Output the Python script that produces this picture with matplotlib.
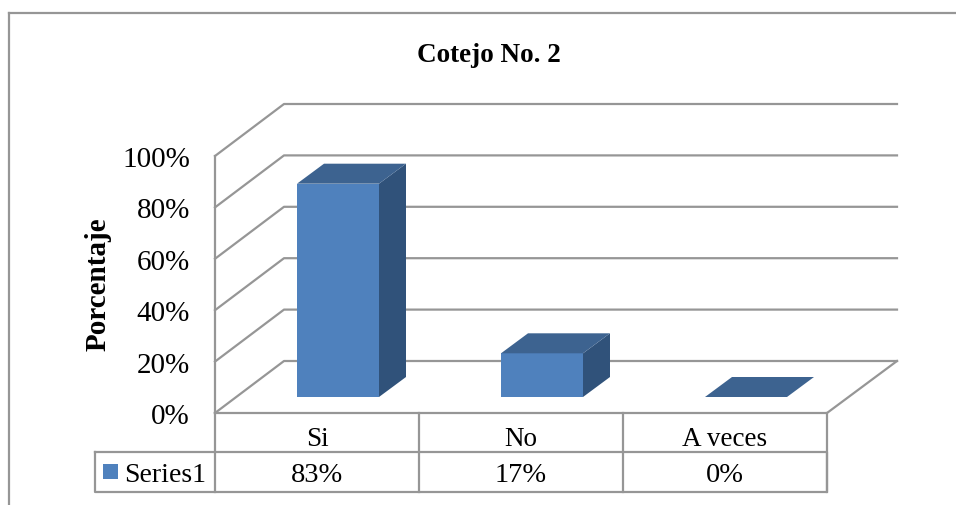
import matplotlib
matplotlib.use('Agg')
import matplotlib.pyplot as plt
from matplotlib.patches import Polygon

plt.rcParams['font.family'] = ['Liberation Serif', 'DejaVu Serif']

categories = ['Si', 'No', 'A veces']
values = [83, 17, 0]
value_labels = ['83%', '17%', '0%']
ticks = [0, 20, 40, 60, 80, 100]
series_name = 'Series1'
title = 'Cotejo No. 2'
ylabel = 'Porcentaje'

FRONT = '#4F81BD'
SIDE = '#30527A'
TOP = '#3D6390'
GRID = '#969696'

fig = plt.figure(figsize=(9.56, 5.05), dpi=100)
ax = fig.add_axes([0, 0, 1, 1])
ax.set_xlim(0, 956)
ax.set_ylim(505, 0)
ax.axis('off')

# plot box, in pixels
x0, x1 = 215, 827
y0 = 413
px_per_pct = 2.57
dx, dy = 69, 52


def yv(v):
    return y0 - v * px_per_pct


def line(xs, ys, lw=1.6):
    ax.plot(xs, ys, color=GRID, lw=lw, solid_capstyle='projecting', zorder=1)


# chart border, only top and left show
line([9, 9], [505, 13])
line([9, 956], [13, 13])

# walls and gridlines
line([x0, x0], [yv(0), yv(100)])
for t in ticks:
    line([x0, x0 + dx, x1 + dx + 1], [yv(t), yv(t) - dy, yv(t) - dy])
    ax.text(190, yv(t) + 4, f'{t}%', ha='right', va='center', fontsize=21, color='black')

# floor
line([x0, x1, x1 + dx + 1], [y0, y0, y0 - dy])

# bars
slot = (x1 - x0) / len(categories)
bar_w = 82
off_x, off_y = 27, 20
lift_y = 16
for i, v in enumerate(values):
    left = x0 + slot * i + 82
    right = left + bar_w
    bottom = yv(0) - lift_y
    top = bottom - v * px_per_pct
    if v > 0:
        ax.add_patch(Polygon([(left, bottom), (right, bottom), (right, top), (left, top)],
                             fc=FRONT, ec='none', zorder=3))
        ax.add_patch(Polygon([(right, bottom), (right + off_x, bottom - off_y),
                              (right + off_x, top - off_y), (right, top)],
                             fc=SIDE, ec='none', zorder=3))
    ax.add_patch(Polygon([(left, top), (right, top), (right + off_x, top - off_y),
                          (left + off_x, top - off_y)], fc=TOP, ec='none', zorder=3))

# data table
row1, row2, row3 = 413, 452, 492
line([95, x1, x1, 95, 95], [row2, row2, row3, row3, row2])
line([x0, x0], [row1, row3])
for i in range(1, 4):
    xc = x0 + slot * i
    line([xc, xc], [row1, row3])
for i, (c, lab) in enumerate(zip(categories, value_labels)):
    xc = x0 + slot * (i + 0.5)
    ax.text(xc, 440, c, ha='center', va='center', fontsize=19.5, color='black')
    ax.text(xc, 475, lab, ha='center', va='center', fontsize=20.5, color='black')

# legend key
ax.add_patch(Polygon([(103, 464), (118, 464), (118, 479), (103, 479)], fc=FRONT, ec='none'))
ax.text(124, 475, series_name, ha='left', va='center', fontsize=20, color='black')

ax.text(489, 55, title, ha='center', va='center', fontsize=19.5, fontweight='bold', color='black')
ax.text(98, 284, ylabel, ha='center', va='center', rotation=90, fontsize=21, fontweight='bold', color='black')

fig.savefig('out.png', dpi=100)
